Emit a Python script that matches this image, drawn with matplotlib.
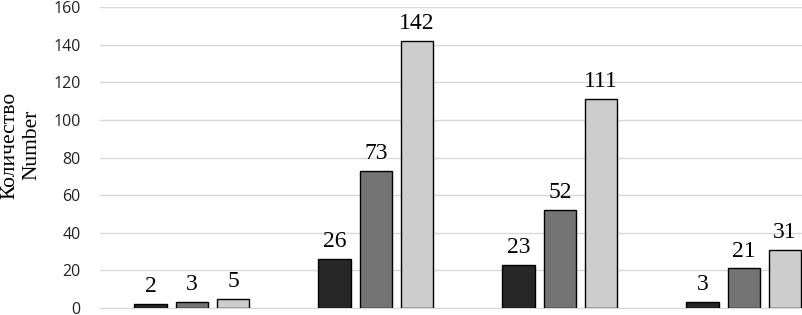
import matplotlib
matplotlib.use("Agg")
import matplotlib.pyplot as plt
import numpy as np

groups = ["1", "2", "3", "4"]
series_a = [2, 26, 23, 3]
series_b = [3, 73, 52, 21]
series_c = [5, 142, 111, 31]
yticks = [0, 20, 40, 60, 80, 100, 120, 140, 160]
ylabel = "Количество\nNumber"

colors = ["#272727", "#747474", "#cdcdcd"]
serif = ["Liberation Serif", "Times New Roman", "DejaVu Serif"]

fig = plt.figure(figsize=(8.03, 3.15), dpi=100)
ax = fig.add_axes([100/803, 7/315, 703/803, 301/315])

x = np.arange(len(groups))
w = 0.179
off = 0.223
for i, (vals, c) in enumerate(zip([series_a, series_b, series_c], colors)):
    bars = ax.bar(x + (i - 1) * off, vals, width=w, color=c, edgecolor="black", linewidth=1.0, zorder=3)
    for b, v in zip(bars, vals):
        ax.annotate(str(v), (b.get_x() + b.get_width()/2, v), xytext=(0, 5), textcoords="offset points",
                    ha="center", va="bottom", fontsize=17, family=serif)

ax.set_xlim(-0.5, -0.5 + 703/184)
ax.set_ylim(0, 160)
ax.set_yticks(yticks)
ax.set_yticklabels([str(t) for t in yticks], fontsize=11.5, family="Open Sans", color="#222222")
ax.set_xticks([])
ax.tick_params(axis="y", length=0, pad=14)
ax.grid(axis="y", color="#d9d9d9", linewidth=1.0, zorder=0)
for s in ["top", "right", "left"]:
    ax.spines[s].set_visible(False)
ax.spines["bottom"].set_color("#d9d9d9")
ax.spines["bottom"].set_zorder(0)

fig.text(21/803, 1 - 145/315, ylabel, rotation=90, ha="center", va="center", fontsize=15.5,
         family=serif, linespacing=1.25)

fig.savefig("out.png", dpi=100)
